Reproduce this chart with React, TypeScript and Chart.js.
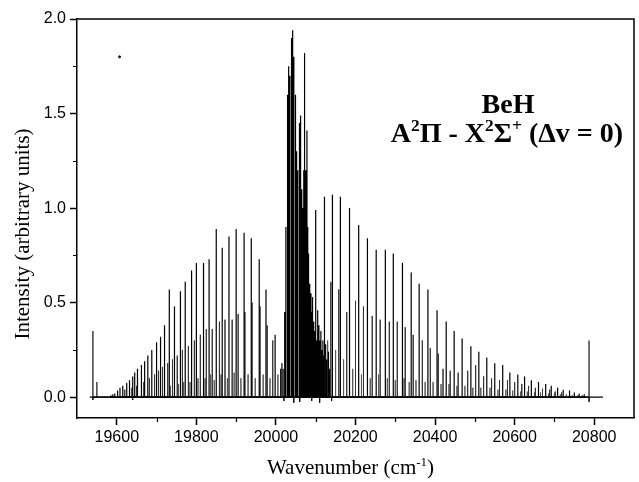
import React, { useEffect, useRef } from 'react';
import { Chart, registerables } from 'chart.js';

Chart.register(...registerables);

// ---- axes ----
const X_RANGE = [19500, 20900];
const Y_RANGE = [-0.11, 2.0];
const X_MAJOR_TICKS = [19600, 19800, 20000, 20200, 20400, 20600, 20800];
const X_MINOR_TICKS = [19700, 19900, 20100, 20300, 20500, 20700];
const Y_MAJOR_TICKS = [0, 0.5, 1.0, 1.5, 2.0];
const Y_MINOR_TICKS = [0.25, 0.75, 1.25, 1.75];
const Y_TITLE = [{ t: 'Intensity (arbitrary units)' }];
const X_TITLE = [{ t: 'Wavenumber (cm' }, { t: '-1', sup: true }, { t: ')' }];
const LABEL_1 = [{ t: 'BeH' }];
const LABEL_2 = [
  { t: 'A' }, { t: '2', sup: true }, { t: 'Π - X' }, { t: '2', sup: true },
  { t: 'Σ' }, { t: '+', sup: true }, { t: ' (Δv = 0)' },
];

// ---- spectrum (wavenumber in cm-1, intensity in arbitrary units) ----
const BASELINE_EXTENT = [19532, 20822];

// P-type progression (low wavenumber side)
const P_POS = [19585, 19590, 19595, 19602, 19608, 19615, 19625, 19632, 19640, 19645, 19652, 19662, 19670, 19678, 19688, 19700, 19710, 19720, 19732, 19745, 19760, 19772, 19788, 19800, 19818, 19832, 19850, 19865, 19882, 19900, 19920, 19938, 19958, 19975, 19998, 20012];
const P_INT = [0.01, 0.015, 0.02, 0.035, 0.05, 0.06, 0.075, 0.09, 0.11, 0.13, 0.15, 0.17, 0.19, 0.22, 0.25, 0.29, 0.32, 0.38, 0.57, 0.48, 0.56, 0.61, 0.67, 0.71, 0.71, 0.73, 0.89, 0.79, 0.85, 0.89, 0.87, 0.84, 0.73, 0.57, 0.33, 0.15];

// Q-type dense band head
const Q_POS = [20018, 20022, 20025, 20028, 20030, 20032, 20035, 20038, 20040, 20042, 20045, 20048, 20050, 20052, 20055, 20058, 20060, 20062, 20065, 20068, 20070, 20072, 20075, 20078, 20080, 20082, 20085, 20088, 20090, 20092, 20095, 20098, 20100, 20103, 20105, 20108, 20110, 20113, 20115, 20118, 20121, 20125, 20128, 20132, 20135];
const Q_INT = [0.15, 0.45, 0.9, 1.3, 1.6, 1.75, 1.7, 1.85, 1.9, 1.94, 1.8, 1.6, 1.52, 1.3, 1.2, 1.45, 1.39, 1.49, 1.1, 1.0, 1.2, 1.82, 1.2, 1.41, 0.9, 0.76, 0.6, 0.55, 0.45, 0.53, 0.4, 0.35, 0.99, 0.3, 0.46, 0.38, 0.3, 0.35, 0.25, 0.3, 0.22, 0.28, 0.2, 0.24, 0.15];

// R-type progression (high wavenumber side)
const R_POS = [20122, 20142, 20162, 20185, 20208, 20230, 20252, 20275, 20295, 20318, 20340, 20360, 20382, 20405, 20428, 20448, 20468, 20490, 20510, 20530, 20550, 20570, 20588, 20608, 20625, 20642, 20660, 20678, 20692, 20708, 20722, 20738, 20750, 20762, 20775];
const R_INT = [1.06, 1.07, 1.06, 1.0, 0.91, 0.84, 0.78, 0.78, 0.76, 0.71, 0.66, 0.6, 0.57, 0.46, 0.4, 0.35, 0.31, 0.27, 0.24, 0.21, 0.18, 0.17, 0.13, 0.12, 0.11, 0.09, 0.08, 0.07, 0.06, 0.05, 0.04, 0.035, 0.025, 0.02, 0.015];

// weaker companion lines
const S_POS = [19620, 19638, 19650, 19668, 19682, 19695, 19705, 19715, 19728, 19740, 19752, 19765, 19780, 19795, 19810, 19825, 19840, 19858, 19872, 19890, 19905, 19922, 19940, 19960, 19978, 19992, 20015, 20138, 20158, 20178, 20200, 20220, 20242, 20262, 20285, 20305, 20325, 20345, 20368, 20388, 20408, 20420, 20438, 20458, 20482, 20502, 20522, 20542, 20562, 20582, 20600, 20618, 20635, 20652, 20670, 20688, 20702, 20718];
const S_INT = [0.04, 0.05, 0.06, 0.08, 0.1, 0.12, 0.14, 0.16, 0.18, 0.2, 0.22, 0.25, 0.27, 0.3, 0.33, 0.36, 0.36, 0.4, 0.41, 0.41, 0.44, 0.45, 0.5, 0.48, 0.38, 0.3, 0.18, 0.61, 0.57, 0.45, 0.51, 0.48, 0.43, 0.41, 0.4, 0.4, 0.37, 0.33, 0.3, 0.26, 0.23, 0.15, 0.14, 0.13, 0.14, 0.17, 0.11, 0.1, 0.09, 0.09, 0.08, 0.07, 0.06, 0.05, 0.045, 0.04, 0.03, 0.025];

// weakest lines
const T_POS = [19735, 19755, 19768, 19784, 19804, 19822, 19836, 19845, 19862, 19878, 19895, 19912, 19930, 19948, 19968, 19985, 20005, 20130, 20150, 20170, 20193, 20215, 20237, 20258, 20280, 20300, 20322, 20335, 20352, 20375, 20395, 20415, 20435, 20455, 20475, 20495, 20515, 20538, 20558, 20578, 20595, 20615, 20632, 20650, 20665, 20685, 20700, 20715, 20730, 20745, 20758, 20770];
const T_INT = [0.06, 0.07, 0.08, 0.08, 0.1, 0.1, 0.12, 0.09, 0.12, 0.1, 0.13, 0.1, 0.12, 0.1, 0.12, 0.1, 0.12, 0.3, 0.25, 0.2, 0.15, 0.12, 0.1, 0.12, 0.1, 0.09, 0.1, 0.08, 0.09, 0.08, 0.08, 0.07, 0.07, 0.06, 0.06, 0.05, 0.05, 0.05, 0.04, 0.04, 0.035, 0.03, 0.03, 0.025, 0.025, 0.02, 0.02, 0.015, 0.015, 0.01, 0.01, 0.01];

// isolated lines and baseline noise dips
const ISO_POS = [19540, 19550, 20787];
const ISO_INT = [0.35, 0.08, 0.3];
const DIP_POS = [19540, 19640, 20020, 20045, 20060, 20090, 20110, 20140, 20787];
const DIP_INT = [-0.015, -0.015, -0.02, -0.03, -0.025, -0.02, -0.03, -0.02, -0.025];
const SPECK = [{ x: 19607, y: 1.8 }];

const spikes = (pos: number[], ints: number[]) =>
  pos.flatMap((p, i) => [
    { x: p, y: 0 },
    { x: p, y: ints[i] },
    { x: p, y: 0 },
  ]);

type Part = { t: string; sup?: boolean };

function drawRich(ctx: CanvasRenderingContext2D, parts: Part[], cx: number, cy: number, size: number, weight: string, rotate = 0) {
  const supSize = size * 0.62;
  const fontOf = (sup?: boolean) => `${weight} ${sup ? supSize : size}px "Liberation Serif", "Times New Roman", serif`;
  let total = 0;
  const widths = parts.map((p) => {
    ctx.font = fontOf(p.sup);
    const w = ctx.measureText(p.t).width;
    total += w;
    return w;
  });
  ctx.save();
  ctx.translate(cx, cy);
  if (rotate) ctx.rotate(rotate);
  let x = -total / 2;
  const base = size * 0.33;
  ctx.textBaseline = 'alphabetic';
  ctx.textAlign = 'left';
  ctx.fillStyle = '#000';
  parts.forEach((p, i) => {
    ctx.font = fontOf(p.sup);
    ctx.fillText(p.t, x, p.sup ? base - size * 0.4 : base);
    x += widths[i];
  });
  ctx.restore();
}

const framePlugin = {
  id: 'frameAndText',
  afterDraw(chart: any) {
    const { ctx, chartArea: a, scales } = chart;
    const xs = scales.x;
    const ys = scales.y;
    ctx.save();
    ctx.strokeStyle = '#000';
    ctx.lineWidth = 1.5;
    ctx.beginPath();
    ctx.moveTo(a.left, a.top);
    ctx.lineTo(a.right, a.top);
    ctx.lineTo(a.right, a.bottom);
    ctx.stroke();
    ctx.lineWidth = 1.2;
    ctx.beginPath();
    X_MINOR_TICKS.forEach((v) => {
      const px = Math.round(xs.getPixelForValue(v)) + 0.5;
      ctx.moveTo(px, a.bottom);
      ctx.lineTo(px, a.bottom + 4);
    });
    Y_MINOR_TICKS.forEach((v) => {
      const py = Math.round(ys.getPixelForValue(v)) + 0.5;
      ctx.moveTo(a.left, py);
      ctx.lineTo(a.left - 4, py);
    });
    ctx.stroke();
    drawRich(ctx, X_TITLE, (a.left + a.right) / 2 - 5, 467, 21, 'normal');
    drawRich(ctx, Y_TITLE, 22, 234, 21, 'normal', -Math.PI / 2);
    drawRich(ctx, LABEL_1, 508, 104, 28, 'bold');
    drawRich(ctx, LABEL_2, 507, 133, 28, 'bold');
    ctx.restore();
  },
};

export default function App() {
  const ref = useRef<HTMLCanvasElement | null>(null);
  useEffect(() => {
    if (!ref.current) return;
    const line = (data: any[], color: string, width: number) => ({
      data,
      borderColor: color,
      borderWidth: width,
      pointRadius: 0,
      fill: false,
      tension: 0,
    });
    const chart = new Chart(ref.current, {
      type: 'line',
      data: {
        datasets: [
          line(spikes(Q_POS, Q_INT), '#000', 1.2),
          line(spikes(R_POS, R_INT), '#000', 1.2),
          line(spikes(P_POS, P_INT), '#000', 1.2),
          line(spikes(ISO_POS, ISO_INT), '#111', 1.2),
          line(spikes(S_POS, S_INT), '#333', 1),
          line(spikes(T_POS, T_INT), '#555', 1),
          line(spikes(DIP_POS, DIP_INT), '#000', 1),
          line(BASELINE_EXTENT.map((x) => ({ x, y: 0 })), '#000', 1.2),
          { data: SPECK, showLine: false, pointRadius: 1, pointBackgroundColor: '#000', borderColor: '#000' },
        ] as any,
      },
      options: {
        responsive: false,
        animation: false,
        events: [],
        layout: { padding: { top: 19, right: 0, left: 0, bottom: 0 } },
        plugins: { legend: { display: false }, tooltip: { enabled: false } },
        scales: {
          x: {
            type: 'linear',
            min: X_RANGE[0],
            max: X_RANGE[1],
            afterFit: (s: any) => { s.height = 64; },
            afterBuildTicks: (s: any) => { s.ticks = X_MAJOR_TICKS.map((value) => ({ value })); },
            grid: { drawOnChartArea: false, drawTicks: true, tickLength: 7, tickColor: '#000', tickWidth: 1.5 },
            border: { display: true, color: '#000', width: 1.5 },
            ticks: {
              color: '#000',
              padding: 3,
              maxRotation: 0,
              autoSkip: false,
              font: { family: '"Liberation Sans", Arial, sans-serif', size: 16 },
              callback: (v: any) => String(v),
            },
          },
          y: {
            type: 'linear',
            min: Y_RANGE[0],
            max: Y_RANGE[1],
            afterFit: (s: any) => { s.width = 77; },
            afterBuildTicks: (s: any) => { s.ticks = Y_MAJOR_TICKS.map((value) => ({ value })); },
            grid: { drawOnChartArea: false, drawTicks: true, tickLength: 7, tickColor: '#000', tickWidth: 1.5 },
            border: { display: true, color: '#000', width: 1.5 },
            ticks: {
              color: '#000',
              padding: 4,
              autoSkip: false,
              font: { family: '"Liberation Sans", Arial, sans-serif', size: 16 },
              callback: (v: any) => Number(v).toFixed(1),
            },
          },
        },
      },
      plugins: [framePlugin],
    } as any);
    return () => chart.destroy();
  }, []);
  return (
    <div style={{ position: 'absolute', left: 0, top: 0, width: 639, height: 482, background: '#fff' }}>
      <canvas ref={ref} width={639} height={482} style={{ display: 'block' }} />
    </div>
  );
}
